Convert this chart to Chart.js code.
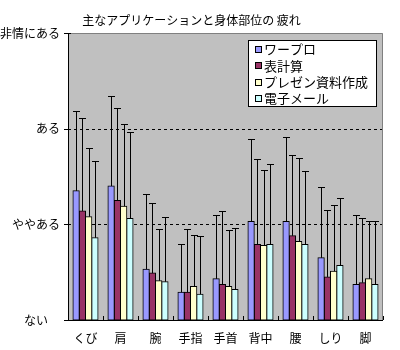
<!DOCTYPE html>
<html><head><meta charset="utf-8">
<script src="https://cdn.jsdelivr.net/npm/chart.js@4"></script>
<style>html,body{margin:0;padding:0;background:#fff}</style>
</head><body>
<canvas id="c" width="400" height="350"></canvas>
<script>
const titleText = '主なアプリケーションと身体部位の 疲れ';
const categories = ['くび', '肩', '腕', '手指', '手首', '背中', '腰', 'しり', '脚'];
const seriesNames = ['ワープロ', '表計算', 'プレゼン資料作成', '電子メール'];
const yTickLabels = ['ない　', 'ややある', 'ある', '非情にある'];

// mean values (0 = ない ... 3 = 非情にある)
const wordpro      = [1.35, 1.40, 0.53, 0.29, 0.43, 1.03, 1.03, 0.65, 0.37];
const spreadsheet  = [1.14, 1.25, 0.49, 0.29, 0.37, 0.79, 0.88, 0.45, 0.39];
const presentation = [1.08, 1.19, 0.41, 0.35, 0.35, 0.78, 0.82, 0.51, 0.43];
const email        = [0.86, 1.06, 0.40, 0.27, 0.32, 0.79, 0.79, 0.57, 0.37];

// standard deviations (upper error bars)
const wordproSD      = [0.83, 0.94, 0.79, 0.50, 0.67, 0.86, 0.88, 0.74, 0.73];
const spreadsheetSD  = [0.97, 0.97, 0.73, 0.66, 0.77, 0.89, 0.84, 0.70, 0.68];
const presentationSD = [0.72, 0.86, 0.54, 0.54, 0.59, 0.79, 0.87, 0.69, 0.61];
const emailSD        = [0.80, 0.91, 0.68, 0.61, 0.64, 0.84, 0.77, 0.71, 0.66];

const FONT = '"Noto Sans CJK JP", "Noto Sans", sans-serif';
const colors = ['#9999FF', '#993366', '#FFFFCC', '#CCFFFF'];
const seriesValues = [wordpro, spreadsheet, presentation, email];
const seriesSD = [wordproSD, spreadsheetSD, presentationSD, emailSD];

const plotDeco = {
  id: 'plotDeco',
  beforeDatasetsDraw(chart) {
    const {ctx, chartArea: a, scales: {y}} = chart;
    ctx.save();
    ctx.fillStyle = '#C0C0C0';
    ctx.fillRect(a.left, a.top, a.right - a.left, a.bottom - a.top);
    ctx.strokeStyle = '#000';
    ctx.lineWidth = 1;
    ctx.setLineDash([3, 3]);
    [1, 2].forEach(v => {
      const py = Math.round(y.getPixelForValue(v)) + 0.5;
      ctx.beginPath(); ctx.moveTo(a.left, py); ctx.lineTo(a.right, py); ctx.stroke();
    });
    ctx.restore();
  },
  afterDatasetsDraw(chart) {
    const {ctx, chartArea: a, scales: {x, y}} = chart;
    ctx.save();
    ctx.strokeStyle = '#000';
    ctx.lineWidth = 1;
    // error bars
    chart.data.datasets.forEach((ds, di) => {
      const meta = chart.getDatasetMeta(di);
      meta.data.forEach((bar, i) => {
        const px = Math.round(bar.x) + 0.5;
        const top = Math.round(y.getPixelForValue(ds.data[i] + ds.errorSD[i])) + 0.5;
        ctx.beginPath();
        ctx.moveTo(px, bar.y); ctx.lineTo(px, top);
        ctx.moveTo(px - 3.5, top); ctx.lineTo(px + 3.5, top);
        ctx.stroke();
      });
    });
    // plot border (top/right gray)
    ctx.strokeStyle = '#808080';
    ctx.beginPath();
    ctx.moveTo(a.left, a.top + 0.5); ctx.lineTo(a.right - 0.5, a.top + 0.5); ctx.lineTo(a.right - 0.5, a.bottom);
    ctx.stroke();
    // axes
    ctx.strokeStyle = '#000';
    ctx.beginPath();
    ctx.moveTo(a.left + 0.5, a.top); ctx.lineTo(a.left + 0.5, a.bottom + 1);
    ctx.moveTo(a.left, a.bottom + 0.5); ctx.lineTo(a.right, a.bottom + 0.5);
    ctx.stroke();
    // y tick marks (crossing)
    ctx.beginPath();
    for (let v = 0; v <= 3; v++) {
      const py = Math.round(y.getPixelForValue(v)) + 0.5;
      ctx.moveTo(a.left - 4, py); ctx.lineTo(a.left + 3, py);
    }
    ctx.stroke();
    // x tick marks (inside) at category boundaries
    const cw = (a.right - a.left) / categories.length;
    ctx.beginPath();
    for (let i = 0; i <= categories.length; i++) {
      const px = Math.round(x.getPixelForValue(0) - cw / 2 + i * cw) + 0.5;
      ctx.moveTo(px, a.bottom); ctx.lineTo(px, a.bottom - 4);
    }
    ctx.stroke();
    ctx.restore();
  },
  afterDraw(chart) {
    const {ctx} = chart;
    ctx.save();
    const bx = 248.5, by = 40.5, bw = 128, bh = 66;
    ctx.fillStyle = '#fff';
    ctx.fillRect(bx, by, bw, bh);
    ctx.strokeStyle = '#000';
    ctx.lineWidth = 1;
    ctx.strokeRect(bx, by, bw, bh);
    ctx.font = '13px ' + FONT;
    ctx.textBaseline = 'middle';
    ctx.textAlign = 'left';
    chart.data.datasets.forEach((ds, i) => {
      const cy = 49.3 + i * 16.4;
      const my = Math.round(cy - 3.5) + 0.5;
      ctx.fillStyle = ds.backgroundColor;
      ctx.fillRect(255.5, my, 6, 6);
      ctx.strokeRect(255.5, my, 6, 6);
      ctx.fillStyle = '#000';
      ctx.fillText(ds.label, 264, cy);
    });
    ctx.restore();
  }
};

new Chart(document.getElementById('c'), {
  type: 'bar',
  data: {
    labels: categories,
    datasets: seriesNames.map((name, i) => ({
      label: name,
      data: seriesValues[i],
      errorSD: seriesSD[i],
      backgroundColor: colors[i],
      borderColor: '#000',
      borderWidth: 1,
      borderSkipped: false,
      inflateAmount: 0.5,
      categoryPercentage: 0.716,
      barPercentage: 1.0
    }))
  },
  options: {
    responsive: false,
    animation: false,
    devicePixelRatio: 1,
    layout: {padding: {top: 0, right: 17, bottom: 0, left: 0}},
    plugins: {
      legend: {display: false},
      tooltip: {enabled: false},
      title: {
        display: true,
        text: titleText,
        color: '#000',
        font: {family: FONT, size: 12, weight: 'normal'},
        padding: {top: 13, bottom: 5.6}
      }
    },
    scales: {
      x: {
        offset: true,
        grid: {display: false, drawTicks: false},
        border: {display: false},
        ticks: {color: '#000', font: {family: FONT, size: 12}, padding: 11, maxRotation: 0, autoSkip: false},
        afterFit: s => { s.height = 30; }
      },
      y: {
        min: 0, max: 3,
        grid: {display: false, drawTicks: false},
        border: {display: false},
        ticks: {
          stepSize: 1,
          color: '#000',
          font: {family: FONT, size: 12},
          padding: 8,
          callback: v => yTickLabels[v]
        },
        afterFit: s => { s.width = 68; }
      }
    }
  },
  plugins: [plotDeco]
});
</script>
</body></html>
